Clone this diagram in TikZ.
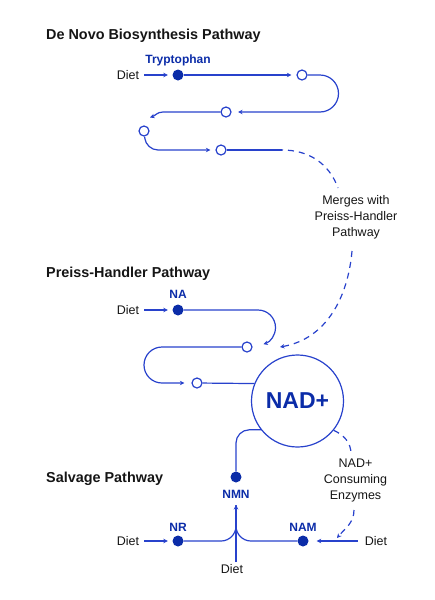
\documentclass[tikz,border=0pt]{standalone}
\usepackage{fontspec}
\setmainfont{Liberation Sans}
\usetikzlibrary{arrows.meta,positioning,calc}
\definecolor{nline}{HTML}{2842CC}
\definecolor{ndot}{HTML}{0B2CA8}
\definecolor{ntext}{HTML}{151515}
\tikzset{
  fulldot/.style   = {circle, fill=ndot, inner sep=0pt, minimum size=11pt},
  opendot/.style   = {circle, draw=nline, line width=1.2pt, fill=white,
                      inner sep=0pt, minimum size=10pt},
  link/.style      = {draw=nline, line width=1.2pt},
  flow/.style      = {link, -{Stealth[length=4.5pt,width=4.5pt]}},
  merge/.style     = {flow, dash pattern=on 6pt off 5pt},
  dietlbl/.style   = {font=\fontsize{12.5}{15}\selectfont, text=ntext, inner sep=2pt},
  molname/.style   = {font=\bfseries\fontsize{12}{14}\selectfont, text=ndot,
                      anchor=base, inner sep=0pt},
  pathtitle/.style = {font=\bfseries\fontsize{14.4}{17}\selectfont, text=ntext,
                      anchor=base west, inner sep=0pt},
  note/.style      = {font=\fontsize{12.5}{16}\selectfont, text=ntext, align=center},
}
\begin{document}
\begin{tikzpicture}[x=1pt,y=1pt]
\useasboundingbox (0,0) rectangle (435,-600);

% de novo biosynthesis
\node[pathtitle] (denovo) at (46,-39) {De Novo Biosynthesis Pathway};
\node[fulldot] (trp) at (178,-75) {};
\node[molname] (trplbl) at (178,-63) {Tryptophan};
\node[dietlbl] (diet1) at (128,-75) {Diet};
\node[opendot] (dn1) at (302,-75) {};
\node[opendot] (dn2) at (226,-112) {};
\node[opendot] (dn3) at (144,-131) {};
\node[opendot] (dn4) at (221,-150) {};
\coordinate (dn3in) at (150,-117.5);
\coordinate (dnend) at (282,-150);
\coordinate (m1) at (338,-188);
\coordinate (m2) at (352,-251);
\coordinate (m3) at (280,-347);
\draw[flow, shorten <=3pt, shorten >=4.5pt] (diet1) -- (trp);
\draw[flow, shorten >=5pt] (trp) -- (dn1);
\draw[flow, shorten >=6.5pt, rounded corners=18.5pt]
  (dn1) -- (338.5,-75) -- (338.5,-112) -- (dn2);
\draw[flow] (dn2) -- (163,-112) to[out=180,in=20] (dn3in);
\draw[flow, shorten >=5pt, rounded corners=12pt] (dn3) -- (146,-150) -- (dn4);
\draw[link] (dn4) -- (dnend);
\node[note] (mergelbl) at (356,-217.5) {Merges with\\Preiss-Handler\\Pathway};
\draw[merge, -, dash phase=5pt] (dnend) to[out=0,in=110] (m1);
\draw[merge] (m2) to[out=-95,in=10] (m3);

% preiss-handler
\node[pathtitle] (preiss) at (46,-277) {Preiss-Handler Pathway};
\node[fulldot] (na) at (178,-310) {};
\node[molname] (nalbl) at (178,-298) {NA};
\node[dietlbl] (diet2) at (128,-310) {Diet};
\node[opendot] (ph1) at (247,-347) {};
\node[opendot] (ph2) at (197,-383) {};
\draw[flow, shorten <=3pt, shorten >=4.5pt] (diet2) -- (na);
\draw[flow] (na) -- (258,-310) arc[start angle=90, end angle=-72, radius=17.5];
\draw[flow, shorten >=7pt, rounded corners=18pt]
  (ph1) -- (144,-347) -- (144,-383) -- (ph2);

% NAD+
\node[circle, draw=nline, line width=1.2pt, minimum size=92pt, text=ndot,
      font=\bfseries\fontsize{23}{26}\selectfont] (nad) at (297.5,-401) {NAD+};
\draw[link] (ph2) -- (nad.158);

% salvage
\node[pathtitle] (salvage) at (46,-482) {Salvage Pathway};
\node[fulldot] (nmn) at (236,-477) {};
\node[molname] (nmnlbl) at (236,-498) {NMN};
\node[fulldot] (nr) at (178,-541) {};
\node[molname] (nrlbl) at (178,-531) {NR};
\node[fulldot] (nam) at (303,-541) {};
\node[molname] (namlbl) at (303,-531) {NAM};
\node[dietlbl] (diet3) at (128,-541) {Diet};
\node[dietlbl] (diet4) at (376,-541) {Diet};
\node[dietlbl] (diet5) at (232,-569) {Diet};
\coordinate (nmnin) at (236,-505);
\coordinate (fork) at (236,-541);
\coordinate (e1) at (351,-454);
\coordinate (e2) at (354,-510);
\coordinate (e3) at (337,-538);
\draw[link, rounded corners=13pt] (nad.218) -- (236,-430) -- (nmn);
\draw[link, rounded corners=15pt] (nr) -- (fork) -- (nmnin);
\draw[link, rounded corners=15pt] (nam) -- (fork) -- (nmnin);
\draw[flow] (diet5.north -| nmnin) -- (nmnin);
\draw[flow, shorten <=3pt, shorten >=4.5pt] (diet3) -- (nr);
\draw[flow, shorten <=5pt, shorten >=8pt] (diet4) -- (nam);
\node[note] (enzlbl) at (355.5,-480) {NAD+\\Consuming\\Enzymes};
\draw[merge, -] (nad.-39) to[out=-25,in=90] (e1);
\draw[merge] (e2) to[out=-90,in=50] (e3);
\end{tikzpicture}
\end{document}
